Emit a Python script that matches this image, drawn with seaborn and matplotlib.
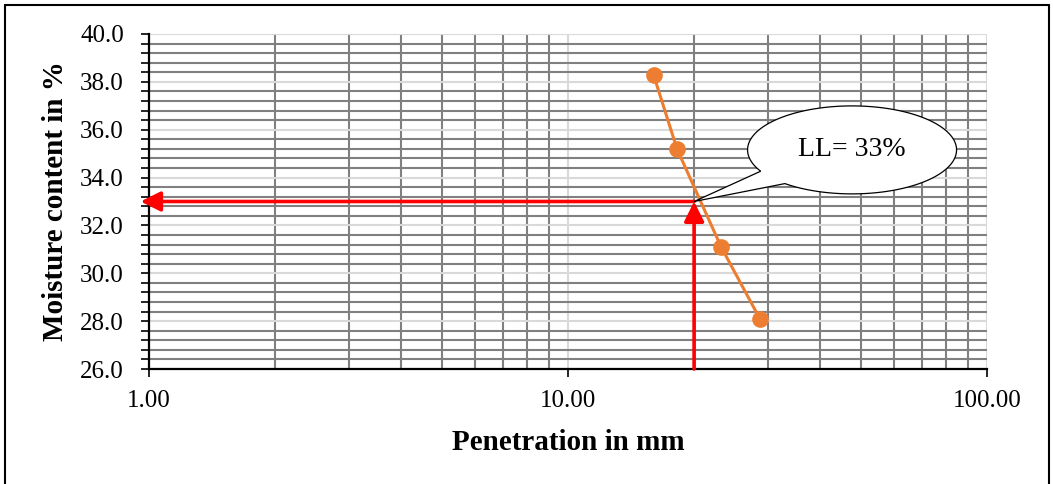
import numpy as np
import pandas as pd
import matplotlib
matplotlib.use("Agg")
import matplotlib.pyplot as plt
from matplotlib.patches import PathPatch
from matplotlib.path import Path
from matplotlib.ticker import FixedLocator, MultipleLocator, FormatStrFormatter, NullFormatter
import seaborn as sns

# Cone penetration test readings
penetration_mm = [16.0, 18.2, 23.2, 28.7]
moisture_pct = [38.3, 35.2, 31.1, 28.1]

# Liquid limit read at 20 mm penetration
ll_penetration = 20.0
ll_moisture = 33.0
ll_label = "LL= 33%"

x_ticks = [1, 10, 100]
y_min, y_max = 26.0, 40.0

sns.set_style("white")
plt.rcParams["font.family"] = ["Liberation Serif", "DejaVu Serif"]
plt.rcParams.update({"text.color": "black", "axes.labelcolor": "black",
                     "xtick.color": "black", "ytick.color": "black"})

fig = plt.figure(figsize=(10.53, 4.84), dpi=100)
ax = fig.add_axes([0.1415, 0.2376, 0.7958, 0.6922])

df = pd.DataFrame({"Penetration": penetration_mm, "Moisture": moisture_pct})
sns.lineplot(data=df, x="Penetration", y="Moisture", ax=ax, color="#ED7D31",
             linewidth=2.2, marker="o", markersize=12, markeredgewidth=0,
             sort=False, zorder=5)

ax.set_xscale("log")
ax.set_xlim(1, 100)
ax.set_ylim(y_min, y_max)

ax.xaxis.set_major_locator(FixedLocator(x_ticks))
ax.xaxis.set_major_formatter(FormatStrFormatter("%.2f"))
ax.xaxis.set_minor_locator(FixedLocator([m * d for d in (1, 10) for m in range(2, 10)]))
ax.xaxis.set_minor_formatter(NullFormatter())
ax.yaxis.set_major_locator(MultipleLocator(2.0))
ax.yaxis.set_minor_locator(MultipleLocator(0.4))
ax.yaxis.set_major_formatter(FormatStrFormatter("%.1f"))

ax.grid(which="major", color="#D9D9D9", linewidth=1.5, zorder=0)
ax.grid(which="minor", color="#808080", linewidth=1.5, zorder=0)
ax.set_axisbelow(True)

for side in ("top", "right"):
    ax.spines[side].set_visible(False)
for side in ("left", "bottom"):
    ax.spines[side].set_color("black")
    ax.spines[side].set_linewidth(1.6)

ax.tick_params(axis="both", which="both", direction="out", color="black", labelsize=18)
ax.tick_params(axis="y", which="both", length=6, width=1.2, left=True, pad=12)
ax.tick_params(axis="x", which="major", length=6, width=1.2, bottom=True, pad=9)
ax.tick_params(axis="x", which="minor", length=0)

ax.set_xlabel("Penetration in mm", fontsize=21, fontweight="bold", labelpad=12)
ax.set_ylabel("Moisture content in %", fontsize=21, fontweight="bold", labelpad=8)

# Red guide arrows locating the liquid limit
arrow_kw = dict(arrowstyle="-|>,head_length=1.0,head_width=0.5", color="#FF0000",
                lw=2.6, shrinkA=0, shrinkB=0, mutation_scale=12)
ax.annotate("", xy=(ll_penetration, ll_moisture), xytext=(ll_penetration, y_min),
            arrowprops=arrow_kw, zorder=4, annotation_clip=False)
ax.annotate("", xy=(0.955, ll_moisture), xytext=(ll_penetration, ll_moisture),
            arrowprops=arrow_kw, zorder=4, annotation_clip=False)

# Speech-bubble callout with the LL value
fig.canvas.draw()
tip = ax.transAxes.inverted().transform(ax.transData.transform((ll_penetration, ll_moisture)))
cx, cy, rx, ry = 0.839, 0.654, 0.1247, 0.1313
theta = np.radians(np.linspace(230, 569, 200))
pts = np.column_stack([cx + rx * np.cos(theta), cy + ry * np.sin(theta)])
verts = np.vstack([pts, tip, pts[0]])
codes = [Path.MOVETO] + [Path.LINETO] * (len(verts) - 2) + [Path.CLOSEPOLY]
bubble = PathPatch(Path(verts, codes), transform=ax.transAxes, facecolor="white",
                   edgecolor="black", linewidth=0.9, zorder=6, clip_on=False)
ax.add_patch(bubble)
ax.text(cx, cy, ll_label, transform=ax.transAxes, ha="center", va="center",
        fontsize=20, zorder=7)

# Chart-area border
border_kw = dict(color="black", linewidth=1.5, transform=fig.transFigure, clip_on=False)
fig.add_artist(plt.Line2D([5 / 1053, 5 / 1053], [0, 1 - 5 / 484], **border_kw))
fig.add_artist(plt.Line2D([5 / 1053, 1049 / 1053], [1 - 5 / 484, 1 - 5 / 484], **border_kw))
fig.add_artist(plt.Line2D([1049 / 1053, 1049 / 1053], [0, 1 - 5 / 484], **border_kw))

fig.savefig("out.png", dpi=100, facecolor="white")
